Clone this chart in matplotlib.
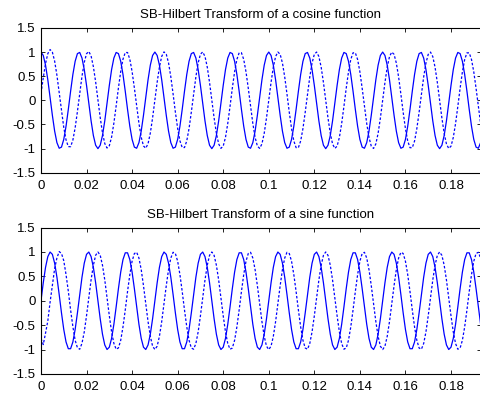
import numpy as np
import matplotlib
matplotlib.use('Agg')
import matplotlib.pyplot as plt

# signal settings (60 Hz tone, 1 kHz sampling)
freq = 60.0
fs = 1000.0
n_total = 1001      # length used for the transform
n_shown = 194       # samples visible on the plot
titles = ['SB-Hilbert Transform of a cosine function',
          'SB-Hilbert Transform of a sine function']
xticks = [0, 0.02, 0.04, 0.06, 0.08, 0.1, 0.12, 0.14, 0.16, 0.18]
xlabels = ['0', '0.02', '0.04', '0.06', '0.08', '0.1', '0.12', '0.14', '0.16', '0.18']
yticks = [-1.5, -1, -0.5, 0, 0.5, 1, 1.5]
ylabels = ['-1.5', '-1', '-0.5', '0', '0.5', '1', '1.5']

def hilb(x):
    # fft based hilbert transform (imag part of analytic signal)
    n = len(x)
    h = np.zeros(n)
    h[0] = 1
    if n % 2 == 0:
        h[n // 2] = 1
        h[1:n // 2] = 2
    else:
        h[1:(n + 1) // 2] = 2
    return np.imag(np.fft.ifft(np.fft.fft(x) * h))

t = np.arange(n_total) / fs
sigs = [np.cos(2 * np.pi * freq * t), np.sin(2 * np.pi * freq * t)]

plt.rcParams['font.family'] = ['Liberation Sans', 'DejaVu Sans']
fig = plt.figure(figsize=(4.81, 3.99), dpi=100)
positions = [[0.0852, 0.567, 0.914, 0.363], [0.0852, 0.0627, 0.914, 0.367]]

for k in range(2):
    ax = fig.add_axes(positions[k])
    hk = hilb(sigs[k])
    ax.plot(t[:n_shown], sigs[k][:n_shown], color='#0000ff', lw=0.9)
    ax.plot(t[:n_shown], hk[:n_shown], color='#0000ff', lw=0.9, ls=(0, (2, 1.5)))
    ax.set_xlim(0, t[n_shown - 1])
    ax.set_ylim(-1.5, 1.5)
    ax.set_xticks(xticks)
    ax.set_xticklabels(xlabels)
    ax.set_yticks(yticks)
    ax.set_yticklabels(ylabels)
    ax.tick_params(direction='in', top=True, right=True, labelsize=9.5, length=3, width=0.6)
    ax.tick_params(axis='x', pad=5)
    ax.tick_params(axis='y', pad=4)
    for s in ax.spines.values():
        s.set_linewidth(0.8)
    ax.set_title(titles[k], fontsize=9.5, pad=7)

fig.savefig('out.png', dpi=100)
